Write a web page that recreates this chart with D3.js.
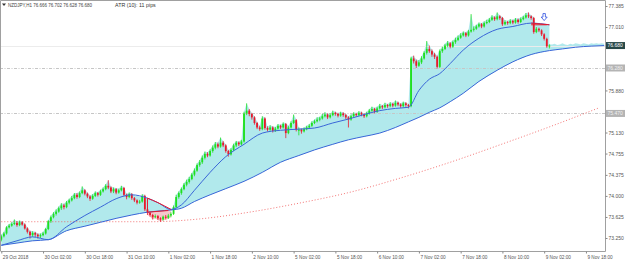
<!DOCTYPE html>
<html>
<head>
<meta charset="utf-8">
<script src="https://cdn.jsdelivr.net/npm/d3@7"></script>
<style>
  body { margin: 0; background: #fff; }
  svg { display: block; }
  text { font-family: "Liberation Sans", Arial, sans-serif; }
</style>
</head>
<body>
<svg id="chart"></svg>
<script>
// NZDJPY H1 candles, 29 Oct 2018 10:00 -> 9 Nov 2018 04:00
const firstOpen = 73.22;
const closes = [
  73.28,73.33,73.44,73.47,73.50,73.52,73.48,73.53,73.49,73.42,
  73.36,73.30,73.34,73.31,73.28,73.30,73.33,73.41,73.55,73.62,
  73.68,73.72,73.78,73.83,73.80,73.88,73.92,73.96,74.02,73.98,
  74.05,74.10,74.04,73.99,73.95,74.00,74.05,74.02,74.08,74.12,
  74.18,74.15,74.08,74.12,74.06,74.10,74.14,74.02,73.98,74.03,
  73.96,73.92,73.88,73.90,74.00,73.76,73.70,73.66,73.62,73.64,
  73.60,73.58,73.63,73.61,73.65,73.68,73.80,73.98,74.05,74.12,
  74.20,74.25,74.30,74.38,74.45,74.55,74.60,74.68,74.75,74.72,
  74.80,74.86,74.92,74.88,74.95,74.90,74.80,74.74,74.82,74.90,
  74.95,74.92,74.97,75.47,75.52,75.46,75.40,75.30,75.22,75.19,
  75.38,75.21,75.18,75.22,75.16,75.20,75.25,75.22,75.28,75.12,
  75.22,75.30,75.35,75.18,75.18,75.15,75.19,75.22,75.25,75.30,
  75.33,75.36,75.38,75.42,75.45,75.40,75.44,75.48,75.46,75.43,
  75.47,75.44,75.40,75.36,75.42,75.46,75.44,75.48,75.45,75.42,
  75.47,75.52,75.55,75.50,75.56,75.60,75.58,75.62,75.60,75.64,
  75.61,75.66,75.63,75.60,75.65,75.62,75.60,76.45,76.40,76.32,
  76.38,76.45,76.55,76.62,76.58,76.52,76.48,76.30,76.58,76.62,
  76.68,76.72,76.66,76.74,76.78,76.82,76.86,76.90,76.86,76.93,
  76.96,76.98,77.02,77.06,77.02,77.08,77.10,77.14,77.18,77.15,
  77.20,77.17,77.06,77.10,77.08,77.12,77.09,77.14,77.10,77.15,
  77.18,77.22,77.20,77.17,76.92,76.98,76.95,76.88,76.80,76.666,
  76.680
];
const highs = [
  73.31,73.36,73.46,73.50,73.53,73.58,73.55,73.56,73.55,73.51,
  73.44,73.38,73.37,73.36,73.33,73.33,73.36,73.43,73.57,73.65,
  73.71,73.76,73.81,73.87,73.86,73.91,73.95,74.00,74.05,74.05,
  74.08,74.17,74.12,74.06,74.01,74.03,74.08,74.07,74.11,74.15,
  74.21,74.28,74.17,74.15,74.14,74.13,74.18,74.16,74.04,74.06,
  74.05,73.98,73.94,73.93,74.03,74.02,73.78,73.72,73.68,73.67,
  73.66,73.62,73.65,73.66,73.68,73.71,73.83,74.02,74.08,74.15,
  74.23,74.29,74.34,74.41,74.49,74.58,74.64,74.72,74.79,74.78,
  74.83,74.90,74.96,74.95,75.04,74.98,74.92,74.82,74.85,74.93,
  74.98,74.97,75.00,75.50,75.65,75.55,75.48,75.42,75.32,75.25,
  75.42,75.40,75.24,75.26,75.24,75.23,75.28,75.27,75.31,75.30,
  75.25,75.33,75.45,75.37,75.22,75.20,75.22,75.25,75.28,75.33,
  75.36,75.40,75.41,75.46,75.49,75.47,75.47,75.52,75.50,75.48,
  75.50,75.49,75.46,75.42,75.45,75.49,75.48,75.51,75.50,75.47,
  75.50,75.55,75.59,75.57,75.59,75.64,75.62,75.66,75.64,75.67,
  75.66,75.70,75.68,75.65,75.68,75.67,75.64,76.48,76.50,76.43,
  76.42,76.49,76.58,76.76,76.68,76.61,76.55,76.50,76.61,76.66,
  76.71,76.76,76.74,76.77,76.82,76.86,76.90,76.93,76.92,76.96,
  77.24,77.02,77.05,77.09,77.08,77.11,77.14,77.17,77.22,77.20,
  77.27,77.22,77.19,77.13,77.12,77.15,77.14,77.17,77.16,77.18,
  77.21,77.26,77.27,77.22,77.19,77.01,77.00,76.97,76.90,76.82,
  76.702
];
const lows = [
  73.19,73.26,73.31,73.42,73.45,73.48,73.45,73.46,73.47,73.40,
  73.33,73.24,73.27,73.27,73.24,73.25,73.28,73.31,73.39,73.52,
  73.60,73.65,73.70,73.75,73.76,73.78,73.85,73.90,73.94,73.95,
  73.96,74.03,74.01,73.96,73.91,73.93,73.98,73.99,74.00,74.06,
  74.10,74.12,74.05,74.05,74.03,74.04,74.08,73.99,73.94,73.96,
  73.93,73.89,73.85,73.86,73.88,73.73,73.66,73.63,73.58,73.60,
  73.57,73.54,73.56,73.58,73.59,73.62,73.66,73.78,73.95,74.02,
  74.10,74.17,74.22,74.28,74.35,74.43,74.52,74.57,74.65,74.69,
  74.70,74.77,74.83,74.85,74.86,74.87,74.77,74.70,74.72,74.80,
  74.87,74.89,74.90,74.95,75.44,75.42,75.36,75.27,75.19,75.16,
  75.17,75.18,75.15,75.16,75.13,75.14,75.18,75.19,75.20,75.03,
  75.10,75.20,75.28,75.15,75.08,75.11,75.13,75.17,75.20,75.23,
  75.28,75.31,75.33,75.36,75.40,75.37,75.38,75.42,75.43,75.40,
  75.41,75.41,75.37,75.22,75.34,75.40,75.41,75.42,75.42,75.39,
  75.40,75.45,75.50,75.47,75.48,75.54,75.55,75.56,75.57,75.58,
  75.58,75.59,75.60,75.57,75.58,75.59,75.56,75.58,76.36,76.28,
  76.30,76.35,76.43,76.52,76.55,76.48,76.44,76.27,76.28,76.55,
  76.60,76.65,76.63,76.64,76.71,76.76,76.80,76.84,76.83,76.84,
  76.91,76.93,76.96,77.00,76.99,77.00,77.06,77.08,77.12,77.12,
  77.13,77.14,77.03,77.04,77.05,77.06,77.06,77.07,77.07,77.08,
  77.13,77.16,77.17,77.14,76.89,76.90,76.92,76.85,76.77,76.64,
  76.628
];

// moving averages at these bars
const maIdx = [0,6,12,18,25,32,38,44,50,56,60,65,69,74,80,86,93,100,107,114,120,127,133,139,145,151,156,160,164,168,172,177,183,190,196,203,210];
const fastMA = [73.12,73.20,73.27,73.22,73.45,73.65,73.80,73.95,74.02,73.96,73.88,73.76,73.84,74.10,74.42,74.70,74.92,75.12,75.17,75.19,75.21,75.30,75.37,75.45,75.52,75.56,75.58,75.88,76.08,76.18,76.36,76.60,76.81,76.97,77.02,77.08,77.05];
const slowMA = [73.12,73.16,73.20,73.22,73.38,73.46,73.53,73.60,73.66,73.71,73.73,73.75,73.78,73.90,74.02,74.13,74.26,74.42,74.60,74.72,74.82,74.92,75.00,75.06,75.12,75.22,75.32,75.40,75.49,75.57,75.68,75.83,76.04,76.24,76.39,76.52,76.59];
const slowAheadIdx = [215,220,226,231];
const slowAhead = [76.62,76.65,76.67,76.68];
const aheadTop = [76.70,76.71,76.69,76.70,76.72,76.70,76.69,76.71,76.70,76.72,76.71,76.70,76.72,76.71,76.70,76.72,76.71,76.72,76.71,76.72,76.71];

const longIdx = [0,30,57,76,95,114,134,153,172,191,210,229];
const longMA = [73.54,73.54,73.54,73.59,73.71,73.87,74.07,74.32,74.60,74.91,75.23,75.57];

const yTicks = [77.385,77.010,75.880,75.130,74.755,74.375,74.000,73.625,73.250];
const xTickIdx = [0,16,32,48,64,80,96,112,128,144,160,176,192,208,224];
const xTickLabels = ["29 Oct 2018","30 Oct 02:00","30 Oct 18:00","31 Oct 10:00","1 Nov 02:00","1 Nov 18:00","2 Nov 10:00","5 Nov 02:00","5 Nov 18:00","6 Nov 10:00","7 Nov 02:00","7 Nov 18:00","8 Nov 10:00","9 Nov 02:00","9 Nov 18:00"];
const levels = [76.280, 75.470];
const bid = 76.680;
const header = "NZDJPY,H1  76.666 76.702 76.628 76.680";
const atrText = "ATR (10): 11 pips";

const W = 625, H = 260;
const axisX = 605, axisY = 251;

const svg = d3.select("#chart").attr("width", W).attr("height", H);

const x = d3.scaleLinear().domain([0, 231]).range([1.3, 1.3 + 231 * 2.61]);
const y = d3.scaleLinear().domain([73.25, 77.385]).range([238, 6]);

const plot = svg.append("g");
plot.append("clipPath").attr("id", "clip")
  .append("rect").attr("x", 0).attr("y", 0).attr("width", axisX).attr("height", axisY);
const g = plot.append("g").attr("clip-path", "url(#clip)");

const opens = closes.map((c, i) => i === 0 ? firstOpen : closes[i - 1]);
const line = d3.line().x(d => x(d[0])).y(d => y(d[1]));

// cloud: highs down to slow MA
const topPts = highs.map((h, i) => [i, h]).concat(aheadTop.map((v, k) => [211 + k, v]));
const slowPts = maIdx.map((d, k) => [d, slowMA[k]]).concat(slowAheadIdx.map((d, k) => [d, slowAhead[k]]));
g.append("path")
  .attr("d", line(topPts.concat(slowPts.slice().reverse())) + "Z")
  .attr("fill", "#b1e9ec");
g.append("path")
  .datum(maIdx.map((d, k) => ({ i: d, f: fastMA[k], s: slowMA[k] })))
  .attr("d", d3.area().x(d => x(d.i)).y0(d => y(d.s)).y1(d => y(d.f)))
  .attr("fill", "#b1e9ec");

// bearish pocket
const pinkTop = maIdx.map((d, k) => [d, slowMA[k]]).filter(d => d[0] >= 56 && d[0] <= 65);
const pinkLow = lows.map((l, i) => [i, l]).filter(d => d[0] >= 56 && d[0] <= 65);
g.append("path")
  .attr("d", line(pinkTop.concat(pinkLow.reverse())) + "Z")
  .attr("fill", "#f6c6cc");

// level lines
g.selectAll(".lvl").data(levels).join("line")
  .attr("x1", 0).attr("x2", axisX)
  .attr("y1", d => Math.round(y(d)) + 0.5).attr("y2", d => Math.round(y(d)) + 0.5)
  .attr("stroke", "#c6c6c6").attr("stroke-dasharray", "3,1.5,1,1.5");
g.append("line")
  .attr("x1", 0).attr("x2", axisX)
  .attr("y1", Math.round(y(bid)) + 0.5).attr("y2", Math.round(y(bid)) + 0.5)
  .attr("stroke", "#ececec");

// long MA, dotted red
g.append("path")
  .attr("d", line.curve(d3.curveMonotoneX)(longIdx.map((d, k) => [d, longMA[k]])))
  .attr("fill", "none").attr("stroke", "#f05050").attr("stroke-width", 0.8)
  .attr("stroke-dasharray", "1,2");

// candles
const candle = g.append("g").selectAll("g").data(closes).join("g");
const col = (d, i) => d >= opens[i] ? "#1ee01e" : "#e8192c";
candle.append("line")
  .attr("x1", (d, i) => x(i)).attr("x2", (d, i) => x(i))
  .attr("y1", (d, i) => y(highs[i])).attr("y2", (d, i) => y(lows[i]))
  .attr("stroke", col).attr("stroke-width", 0.8);
candle.append("rect")
  .attr("x", (d, i) => x(i) - 0.9).attr("width", 1.8)
  .attr("y", (d, i) => y(Math.max(d, opens[i])))
  .attr("height", (d, i) => Math.max(1, Math.abs(y(d) - y(opens[i]))))
  .attr("fill", col);

// moving averages
const smooth = d3.line().x(d => x(d[0])).y(d => y(d[1])).curve(d3.curveMonotoneX);
g.append("path").attr("d", smooth(slowPts))
  .attr("fill", "none").attr("stroke", "#3a66d8").attr("stroke-width", 1);
g.append("path").attr("d", smooth(maIdx.map((d, k) => [d, fastMA[k]])))
  .attr("fill", "none").attr("stroke", "#3a66d8").attr("stroke-width", 1);

const redFast = maIdx.map((d, k) => [d, fastMA[k]]);
g.append("path").attr("d", smooth(redFast.filter(d => d[0] >= 56 && d[0] <= 65)))
  .attr("fill", "none").attr("stroke", "#e8192c").attr("stroke-width", 1);
g.append("path").attr("d", smooth(redFast.filter(d => d[0] >= 203)))
  .attr("fill", "none").attr("stroke", "#e8192c").attr("stroke-width", 1);
g.append("path").attr("d", line.curve(d3.curveLinear)([[56, fastMA[9]], [56, slowMA[9]], [64, slowMA[10] + 0.01]]))
  .attr("fill", "none").attr("stroke", "#e8192c").attr("stroke-width", 1);
g.append("path").attr("d", line([[203, 77.05], [209, 77.05]]))
  .attr("fill", "none").attr("stroke", "#e8192c").attr("stroke-width", 1);

// sell arrow
const ax = x(208), ay = y(77.25);
g.append("path")
  .attr("d", `M${ax - 1.2},${ay} h2.4 v3.5 h1.8 l-3,3.5 l-3,-3.5 h1.8 Z`)
  .attr("fill", "#fff").attr("stroke", "#2d4fe0").attr("stroke-width", 0.8);

// frame
svg.append("path")
  .attr("d", `M0.5,${axisY}V0.5H${axisX}.5V${axisY}.5H0.5`)
  .attr("fill", "none").attr("stroke", "#a0a0a0").attr("stroke-width", 1);

// price axis
const yAxis = svg.append("g").attr("transform", `translate(${axisX + 0.5},0)`)
  .call(d3.axisRight(y).tickValues(yTicks).tickFormat(d3.format(".3f")).tickSize(2).tickPadding(1));
yAxis.select(".domain").remove();
yAxis.selectAll("line").attr("stroke", "#888");
yAxis.selectAll("text").attr("font-size", 5).attr("fill", "#555").attr("font-family", "Liberation Sans");

function priceTag(v, bg, fg) {
  const yy = y(v);
  svg.append("rect").attr("x", axisX + 1).attr("y", yy - 3.5).attr("width", 19).attr("height", 7).attr("fill", bg);
  svg.append("text").attr("x", axisX + 2.5).attr("y", yy + 1.8).attr("font-size", 5).attr("fill", fg)
    .text(d3.format(".3f")(v));
}
levels.forEach(v => priceTag(v, "#b4b4b4", "#f2f2f2"));
priceTag(bid, "#274848", "#ffffff");

// time axis
const xAxis = svg.append("g").attr("transform", `translate(0,${axisY + 0.5})`)
  .call(d3.axisBottom(x).tickValues(xTickIdx).tickFormat((d, k) => xTickLabels[k]).tickSize(2).tickPadding(2));
xAxis.select(".domain").remove();
xAxis.selectAll("line").attr("stroke", "#888");
xAxis.selectAll("text").attr("font-size", 4.7).attr("fill", "#555").attr("text-anchor", "start")
  .attr("font-family", "Liberation Sans").attr("dx", 1);

// header
svg.append("path").attr("d", "M2,3.5 h4 l-2,2.5 Z").attr("fill", "#333");
svg.append("text").attr("x", 8).attr("y", 6.6).attr("font-size", 4.5).attr("fill", "#444").text(header);
svg.append("text").attr("x", 115).attr("y", 7).attr("font-size", 5.3).attr("fill", "#333").text(atrText);
</script>
</body>
</html>
